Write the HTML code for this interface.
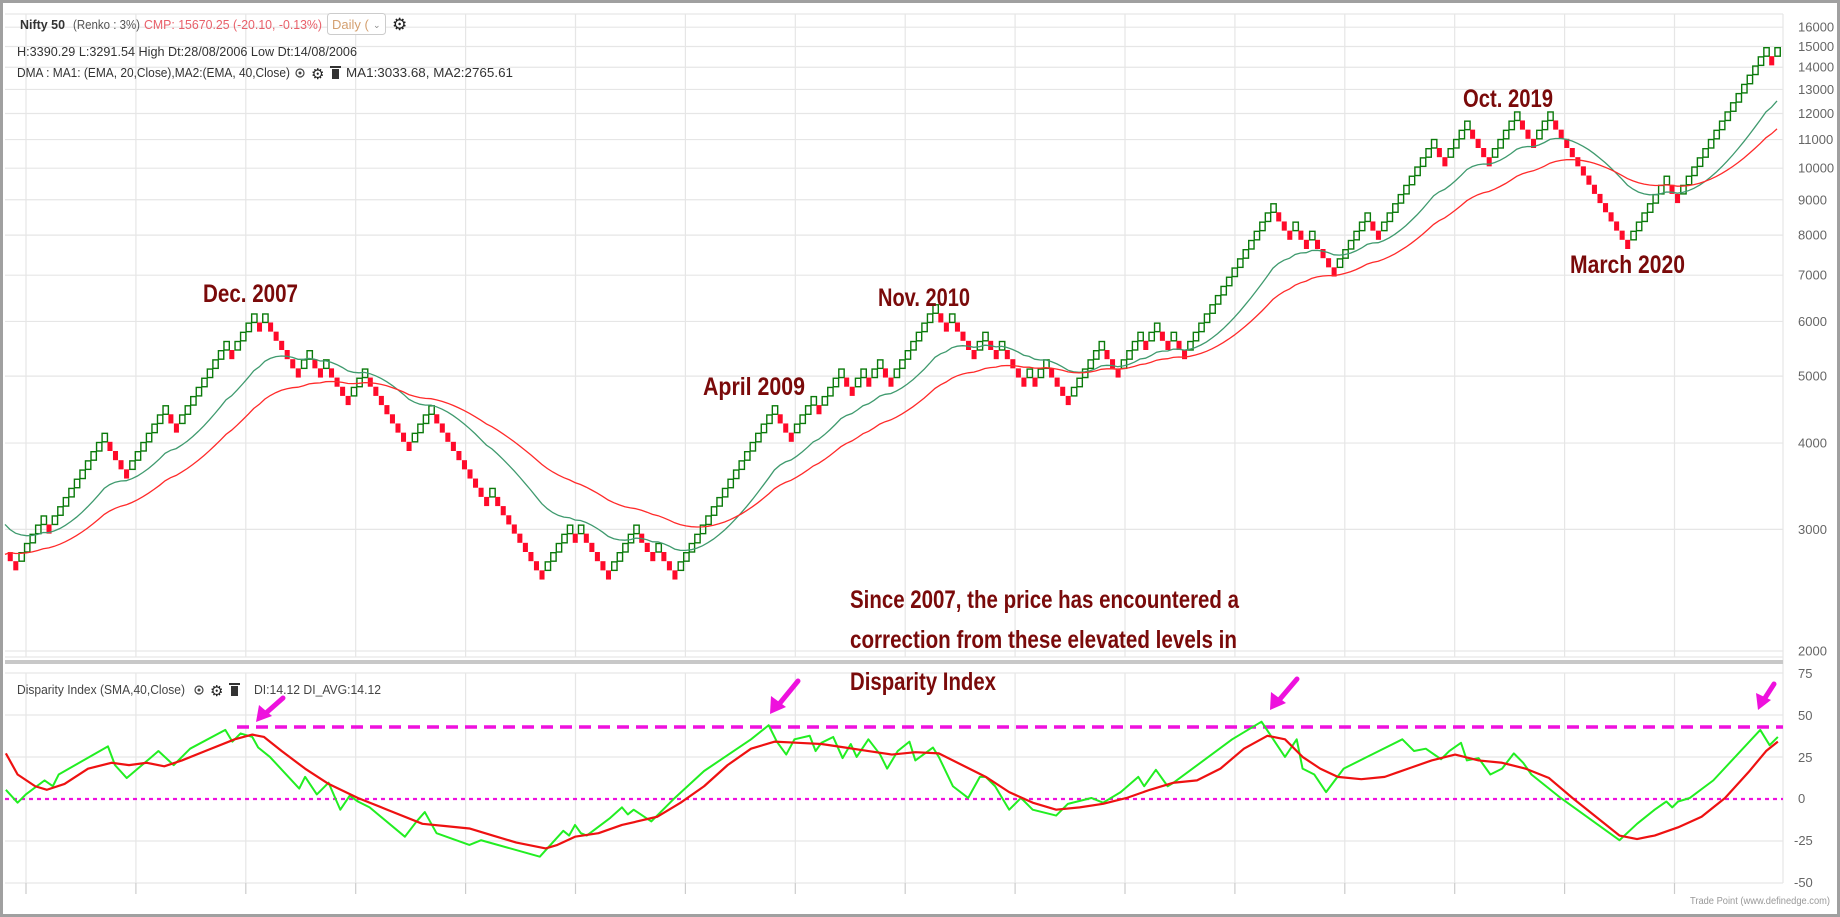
<!DOCTYPE html>
<html><head><meta charset="utf-8">
<style>
html,body{margin:0;padding:0;background:#fff;}
svg{display:block;}
text{font-family:"Liberation Sans",sans-serif;}
.ann{font-family:"Liberation Sans Narrow","Liberation Sans",sans-serif;font-weight:bold;fill:#7a0a0a;}
.ax{font-size:13px;fill:#666;}
</style></head>
<body>
<svg id="s" width="1840" height="917" viewBox="0 0 1840 917" xmlns="http://www.w3.org/2000/svg">
<rect x="0" y="0" width="1840" height="917" fill="#fff"/>
<g id="grid" stroke="#e6e6e6" stroke-width="1.2" fill="none"></g>
<g id="bricks"></g>
<g id="mas" fill="none"></g>
<rect x="5" y="660" width="1778" height="4" fill="#c8c8c8"/>
<line x1="5" y1="799" x2="1783" y2="799" stroke="#ee11dd" stroke-width="2.2" stroke-dasharray="4,4"/>
<line x1="237" y1="727" x2="1783" y2="727" stroke="#ee11dd" stroke-width="3.5" stroke-dasharray="12,7"/>
<g transform="scale(1.1735)" fill="none" stroke-linejoin="round">
<polyline vector-effect="non-scaling-stroke" stroke="#22ee22" stroke-width="2" points="5,673 15,684 22,677 38,665 45,670 50,660 92,636 98,652 108,663 128,646 135,640 148,652 162,638 192,622 198,632 205,625 215,628 220,637 230,645 255,672 260,662 270,677 280,667 290,690 298,678 305,683 315,688 345,713 355,700 362,692 372,710 400,720 410,716 460,730 480,708 485,712 490,703 495,710 500,712 520,697 530,688 535,694 540,690 555,700 565,690 575,680 600,657 640,630 655,618 662,632 670,643 677,630 690,627 695,640 700,633 710,628 718,646 725,634 730,645 740,630 750,643 756,655 765,640 775,632 780,648 795,637 800,645 812,670 825,680 835,662 840,662 848,670 860,690 870,680 880,690 900,695 910,685 930,680 940,684 955,675 970,662 975,670 985,656 995,670 1000,667 1050,630 1075,615 1085,630 1095,645 1105,630 1110,655 1120,660 1130,675 1145,655 1165,645 1195,630 1205,640 1215,638 1228,647 1235,640 1245,633 1250,648 1260,646 1270,660 1280,655 1290,642 1298,650 1305,660 1330,680 1380,716 1395,702 1410,690 1420,683 1425,688 1430,683 1440,680 1460,665 1500,622 1508,635 1515,628"/>
<polyline vector-effect="non-scaling-stroke" stroke="#ee1111" stroke-width="2.2" points="5,642 15,660 30,670 40,673 55,668 75,655 95,650 110,652 125,650 140,653 155,648 175,640 200,630 215,626 225,628 240,640 260,655 280,668 305,680 330,690 360,702 380,704 400,706 420,712 440,718 465,723 475,720 490,713 510,710 530,703 560,696 580,684 600,670 620,652 640,638 660,632 680,633 700,634 720,637 740,640 760,643 780,641 800,642 820,652 840,662 860,675 880,684 900,690 920,688 940,685 960,680 980,673 1000,667 1020,665 1040,655 1060,638 1080,627 1095,630 1110,645 1125,655 1140,662 1160,664 1180,662 1200,655 1220,648 1240,643 1260,648 1280,650 1300,655 1320,663 1340,680 1360,696 1380,712 1395,715 1410,712 1430,705 1450,696 1470,680 1490,658 1505,640 1515,632"/>
</g>
<g stroke="#ee11dd" stroke-width="5" fill="#ee11dd" stroke-linecap="round">
<line x1="283" y1="698" x2="266" y2="713"/><polygon stroke="none" points="256,722 259,705 272,716"/>
<line x1="798" y1="681" x2="780" y2="703"/><polygon stroke="none" points="770,714 771,696 786,707"/>
<line x1="1297" y1="679" x2="1280" y2="699"/><polygon stroke="none" points="1270,710 1271,692 1286,703"/>
<line x1="1774" y1="684" x2="1765" y2="698"/><polygon stroke="none" points="1758,710 1756,693 1771,700"/>
</g>
<g id="ylab" class="ax"></g>
<text x="1798" y="678" class="ax">75</text>
<text x="1798" y="720" class="ax">50</text>
<text x="1798" y="762" class="ax">25</text>
<text x="1798" y="803" class="ax">0</text>
<text x="1794" y="845" class="ax">-25</text>
<text x="1794" y="887" class="ax">-50</text>
<text x="1690" y="904" font-size="10" fill="#999" textLength="140" lengthAdjust="spacingAndGlyphs">Trade Point (www.definedge.com)</text>
<text x="20" y="29" font-size="13" font-weight="bold" fill="#333" textLength="45" lengthAdjust="spacingAndGlyphs">Nifty 50</text>
<text x="73" y="29" font-size="13" fill="#555" textLength="67" lengthAdjust="spacingAndGlyphs">(Renko : 3%)</text>
<text x="144" y="29" font-size="13" fill="#e8606a" textLength="178" lengthAdjust="spacingAndGlyphs">CMP: 15670.25 (-20.10, -0.13%)</text>
<rect x="327.5" y="13.5" width="58" height="21" rx="3" fill="#fff" stroke="#ccc"/>
<text x="332" y="29" font-size="13" fill="#d4a070">Daily (</text>
<text x="373" y="28" font-size="9" fill="#888">⌄</text>
<text x="392" y="30" font-size="17" fill="#222">⚙</text>
<text x="17" y="56" font-size="12.5" fill="#333" textLength="340" lengthAdjust="spacingAndGlyphs">H:3390.29 L:3291.54 High Dt:28/08/2006 Low Dt:14/08/2006</text>
<text x="17" y="77" font-size="12.5" fill="#333" textLength="273" lengthAdjust="spacingAndGlyphs">DMA : MA1: (EMA, 20,Close),MA2:(EMA, 40,Close)</text>
<circle cx="300" cy="73" r="4" fill="none" stroke="#444" stroke-width="1.2"/><circle cx="300" cy="73" r="1.5" fill="#444"/>
<text x="311" y="79" font-size="15" fill="#222">⚙</text>
<g fill="#333"><rect x="330" y="66" width="11" height="2"/><rect x="332" y="69" width="7" height="10"/></g>
<text x="346" y="77" font-size="12.5" fill="#333" textLength="167" lengthAdjust="spacingAndGlyphs">MA1:3033.68, MA2:2765.61</text>
<text x="17" y="694" font-size="12.5" fill="#444" textLength="168" lengthAdjust="spacingAndGlyphs">Disparity Index (SMA,40,Close)</text>
<circle cx="199" cy="690" r="4" fill="none" stroke="#444" stroke-width="1.2"/><circle cx="199" cy="690" r="1.5" fill="#444"/>
<text x="210" y="696" font-size="15" fill="#222">⚙</text>
<g fill="#333"><rect x="229" y="683" width="11" height="2"/><rect x="231" y="686" width="7" height="10"/></g>
<text x="254" y="694" font-size="12.5" fill="#444" textLength="127" lengthAdjust="spacingAndGlyphs">DI:14.12 DI_AVG:14.12</text>
<text class="ann" x="203" y="302" font-size="25" textLength="95" lengthAdjust="spacingAndGlyphs">Dec. 2007</text>
<text class="ann" x="703" y="395" font-size="25" textLength="102" lengthAdjust="spacingAndGlyphs">April 2009</text>
<text class="ann" x="878" y="306" font-size="25" textLength="92" lengthAdjust="spacingAndGlyphs">Nov. 2010</text>
<text class="ann" x="1463" y="107" font-size="25" textLength="90" lengthAdjust="spacingAndGlyphs">Oct. 2019</text>
<text class="ann" x="1570" y="273" font-size="25" textLength="115" lengthAdjust="spacingAndGlyphs">March 2020</text>
<text class="ann" x="850" y="608" font-size="25" textLength="389" lengthAdjust="spacingAndGlyphs">Since 2007, the price has encountered a</text>
<text class="ann" x="850" y="648" font-size="25" textLength="387" lengthAdjust="spacingAndGlyphs">correction from these elevated levels in</text>
<text class="ann" x="850" y="690" font-size="25" textLength="146" lengthAdjust="spacingAndGlyphs">Disparity Index</text>
<rect x="1.5" y="1.5" width="1837" height="914" fill="none" stroke="#a0a0a0" stroke-width="3"/>
</svg>
<script>
(function(){
var NS="http://www.w3.org/2000/svg";
function el(p,t,a){var e=document.createElementNS(NS,t);for(var k in a)e.setAttribute(k,a[k]);p.appendChild(e);return e;}
var grid=document.getElementById('grid'), ylab=document.getElementById('ylab');
function yp(p){return 651-300*Math.log(p/2000);}
var prices=[2000,3000,4000,5000,6000,7000,8000,9000,10000,11000,12000,13000,14000,15000,16000];
el(grid,'line',{x1:5,y1:14,x2:1783,y2:14});
prices.forEach(function(p){var y=yp(p);el(grid,'line',{x1:5,y1:y,x2:1783,y2:y});
 var t=el(ylab,'text',{x:1798,y:y+4.5});t.textContent=String(p);});
el(grid,'line',{x1:5,y1:657,x2:1783,y2:657});
[673,715,757,841,883].forEach(function(y){el(grid,'line',{x1:5,y1:y,x2:1783,y2:y});});
el(grid,'line',{x1:1783,y1:14,x2:1783,y2:883});
for(var x=26;x<1783;x+=109.9){
 el(grid,'line',{x1:x,y1:14,x2:x,y2:657});
 el(grid,'line',{x1:x,y1:673,x2:x,y2:883});
 el(grid,'line',{x1:x,y1:883,x2:x,y2:894,stroke:'#ccc'});
}
var runs=[-2,5,-1,10,-4,7,-2,9,-1,4,-1,1,-6,2,-2,1,-4,3,-8,4,-10,1,-9,5,-1,1,-5,5,-3,1,-3,18,-3,4,-1,4,-2,2,-1,2,-2,8,-2,1,-4,2,-2,1,-4,1,-1,2,-4,6,-3,4,-1,2,-2,1,-2,16,-3,1,-2,1,-4,6,-2,10,-2,4,-4,5,-3,3,-14,7,-2,16,-1,1];
var bricks=[];
var lo=-1,hi=0,dir=-1;bricks.push([lo,hi,-1]);
runs.forEach(function(r,ri){
 var n=Math.abs(r),d=r>0?1:-1;
 for(var i=0;i<n;i++){
  if(ri===0&&i===0)continue;
  if(d===1){ if(dir===1){lo=hi;hi=hi+1;} else {lo=lo+1;hi=lo+1;} }
  else { if(dir===-1){hi=lo;lo=lo-1;} else {hi=hi-1;lo=hi-1;} }
  dir=d;bricks.push([lo,hi,d]);
 }
});
var topEnd=bricks[bricks.length-1][1];
var y0=552,px=(y0-47)/topEnd;
var N=bricks.length,x0=10,step=(1777-x0)/(N-1);
var bg=document.getElementById('bricks');
var closes=[];
bricks.forEach(function(b,i){
 var x=x0+i*step-step/2,yt=y0-b[1]*px,h=px;
 if(b[2]>0)el(bg,'rect',{x:x+0.7,y:yt+0.7,width:step-0.2,height:h-0.7,fill:'none',stroke:'#0a7a0a','stroke-width':1.4});
 else el(bg,'rect',{x:x+0.5,y:yt,width:step-0.5,height:h,fill:'#ff0a2a'});
 var lev=b[2]>0?b[1]:b[0];
 closes.push(y0-lev*px);
});
function pr(y){return 2000*Math.exp((651-y)/300);}
var e20=3030,e40=2780,p20=[],p40=[];
closes.forEach(function(y,i){var p=pr(y);e20+= (p-e20)*2/21;e40+=(p-e40)*2/41;
 var x=x0+i*step;p20.push(x.toFixed(1)+','+yp(e20).toFixed(1));p40.push(x.toFixed(1)+','+yp(e40).toFixed(1));});
var mg=document.getElementById('mas');
el(mg,'polyline',{points:'5,'+yp(3050).toFixed(1)+' '+p20.join(' '),stroke:'#3f9a6e','stroke-width':1.3});
el(mg,'polyline',{points:'5,'+yp(2760).toFixed(1)+' '+p40.join(' '),stroke:'#ff2a2a','stroke-width':1.3});
})();
</script>
</body></html>
